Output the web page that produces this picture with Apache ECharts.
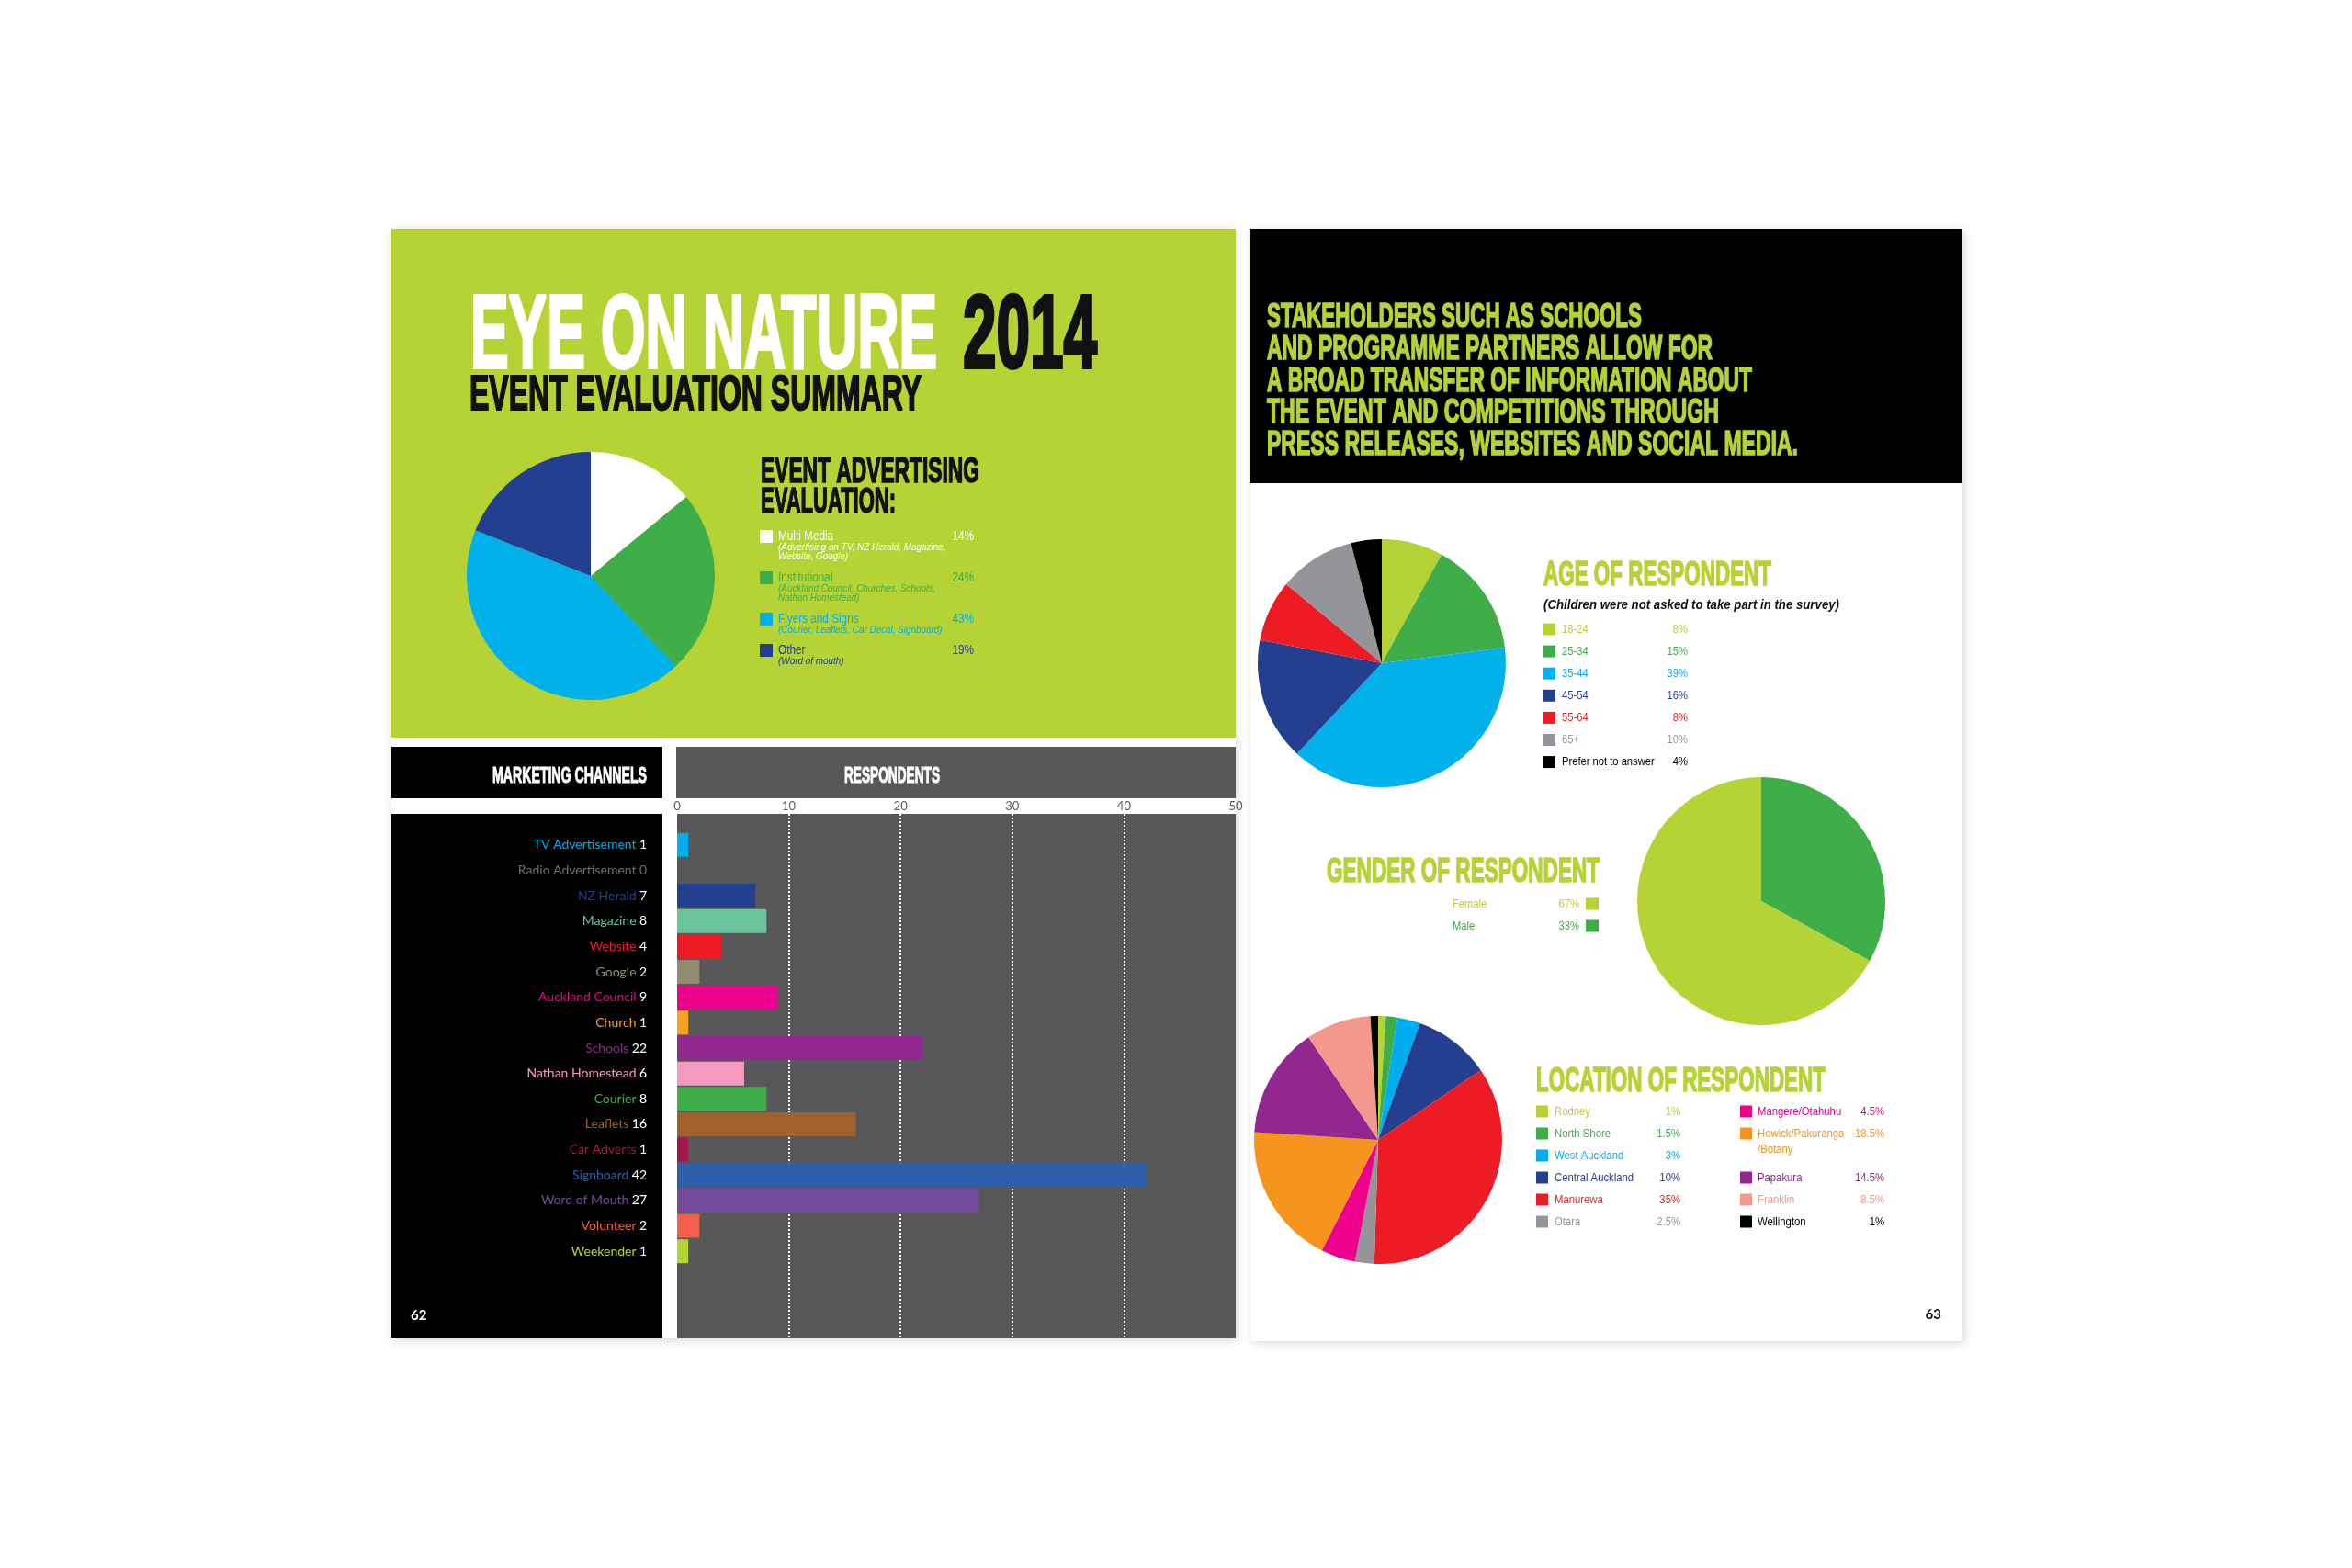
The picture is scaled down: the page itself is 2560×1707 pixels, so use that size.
<!DOCTYPE html>
<html>
<head>
<meta charset="utf-8">
<script src="https://cdn.jsdelivr.net/npm/echarts@6.0.0/dist/echarts.min.js"></script>
<style>
  html, body { margin: 0; padding: 0; background: #ffffff; }
  #chart { width: 2560px; height: 1707px; }
</style>
</head>
<body>
<div id="chart"></div>
<script>
// ---------------- DATA ----------------
const adNames = ['Multi Media', 'Institutional', 'Flyers and Signs', 'Other'];
const adNotes = [
  ['(Advertising on TV, NZ Herald, Magazine,', 'Website, Google)'],
  ['(Auckland Council, Churches, Schools,', 'Nathan Homestead)'],
  ['(Courier, Leaflets, Car Decal, Signboard)'],
  ['(Word of mouth)']
];
const adShare = [14, 24, 43, 19];

const channels = ['TV Advertisement', 'Radio Advertisement', 'NZ Herald', 'Magazine', 'Website', 'Google',
  'Auckland Council', 'Church', 'Schools', 'Nathan Homestead', 'Courier', 'Leaflets', 'Car Adverts',
  'Signboard', 'Word of Mouth', 'Volunteer', 'Weekender'];
const channelCounts = [1, 0, 7, 8, 4, 2, 9, 1, 22, 6, 8, 16, 1, 42, 27, 2, 1];

const ageGroups = ['18-24', '25-34', '35-44', '45-54', '55-64', '65+', 'Prefer not to answer'];
const ageShare = [8, 15, 39, 16, 8, 10, 4];

const genders = ['Female', 'Male'];
const genderShare = [67, 33];

const locations = ['Rodney', 'North Shore', 'West Auckland', 'Central Auckland', 'Manurewa', 'Otara',
  'Mangere/Otahuhu', 'Howick/Pakuranga\n/Botany', 'Papakura', 'Franklin', 'Wellington'];
const locationShare = [1, 1.5, 3, 10, 35, 2.5, 4.5, 18.5, 14.5, 8.5, 1];

const statementLines = [
  'STAKEHOLDERS SUCH AS SCHOOLS',
  'AND PROGRAMME PARTNERS ALLOW FOR',
  'A BROAD TRANSFER OF INFORMATION ABOUT',
  'THE EVENT AND COMPETITIONS THROUGH',
  'PRESS RELEASES, WEBSITES AND SOCIAL MEDIA.'
];

// ---------------- STYLES ----------------
const LIME = '#b5d334', GREEN = '#3fae49', CYAN = '#00b1eb', NAVY = '#243f8f', RED = '#ed1c24',
  GREY = '#939598', BLACK = '#000000';
const adColors = ['#ffffff', GREEN, CYAN, NAVY];
const adTextColors = ['#ffffff', GREEN, CYAN, NAVY];
const channelColors = ['#00aeef', '#6d6e71', '#243f8f', '#6cc49c', '#ed1c24', '#938d70', '#ec008c', '#f9a21b',
  '#92278f', '#f49ac1', '#3fae49', '#a0612a', '#a3174f', '#2e5fad', '#744a9c', '#f26049', '#b5d334'];
const ageColors = [LIME, GREEN, CYAN, NAVY, RED, GREY, BLACK];
const genderColors = [LIME, GREEN];
const locColors = [LIME, GREEN, '#00aeef', NAVY, RED, GREY, '#ec008c', '#f7941d', '#92278f', '#f4978e', BLACK];

// ---------------- HELPERS ----------------
const mctx = document.createElement('canvas').getContext('2d');
const SANS = '"Liberation Sans"';
function txt(text, x, y, o) {
  const fam = o.family || SANS;
  const weight = o.weight || 'normal';
  const fstyle = o.style || 'normal';
  mctx.font = fstyle + ' ' + weight + ' ' + o.size + 'px ' + fam;
  const w = mctx.measureText(text).width;
  const sx = o.w ? o.w / w : (o.sx || 1);
  const style = {
    text: text, fill: o.color || '#000', fontSize: o.size, fontFamily: fam,
    fontWeight: weight, fontStyle: fstyle, textAlign: o.align || 'left', textVerticalAlign: 'middle'
  };
  if (o.heavy) { style.stroke = o.color || '#000'; style.lineWidth = o.heavy; }
  return { type: 'text', x: x, y: y, scaleX: sx, z: 100, silent: true, style: style };
}
function rect(x, y, w, h, fill, extra) {
  return { type: 'rect', z: -10, silent: true, shape: { x: x, y: y, width: w, height: h }, style: Object.assign({ fill: fill }, extra || {}) };
}
function pieData(names, vals, colors) {
  return vals.map((v, i) => ({ name: names[i], value: v, itemStyle: { color: colors[i] } }));
}

const G = [];
// pages & panels
G.push(rect(426, 249, 919, 1208, '#ffffff', { shadowBlur: 10, shadowColor: 'rgba(0,0,0,0.16)', shadowOffsetX: 1, shadowOffsetY: 2 }));
G.push(rect(1361, 249, 775, 1211, '#ffffff', { shadowBlur: 10, shadowColor: 'rgba(0,0,0,0.16)', shadowOffsetX: 2, shadowOffsetY: 2 }));
G.push(rect(426, 249, 919, 554, LIME));
G.push(rect(426, 813, 295, 56, '#000000'));
G.push(rect(736, 813, 609, 56, '#58585a'));
G.push(rect(426, 886, 295, 571, '#000000'));
G.push(rect(1361, 249, 775, 277, '#000000'));

// left page titles
G.push(txt('EYE ON NATURE', 512, 369, { size: 114, weight: 'bold', w: 508, color: '#ffffff', heavy: 4 }));
G.push(txt('2014', 1048, 369, { size: 114, weight: 'bold', w: 146, color: '#111111', heavy: 4 }));
G.push(txt('EVENT EVALUATION SUMMARY', 511, 431, { size: 54, weight: 'bold', w: 492, color: '#111111', heavy: 2 }));
G.push(txt('EVENT ADVERTISING', 828, 515, { size: 38, weight: 'bold', w: 238, color: '#111111', heavy: 1.6 }));
G.push(txt('EVALUATION:', 828, 548, { size: 38, weight: 'bold', w: 147, color: '#111111', heavy: 1.6 }));

// advertising legend
const adRowY = [584, 629, 674, 708];
adNames.forEach((n, i) => {
  const y = adRowY[i];
  G.push({ type: 'rect', z: 50, silent: true, shape: { x: 827, y: y - 7, width: 14, height: 14 }, style: { fill: adColors[i] } });
  G.push(txt(n, 847, y, { size: 14, sx: 0.84, color: adTextColors[i] }));
  G.push(txt(adShare[i] + '%', 1060, y, { size: 14, sx: 0.84, color: adTextColors[i], align: 'right' }));
  adNotes[i].forEach((line, k) => {
    G.push(txt(line, 847, y + 12 + k * 10, { size: 11.5, style: 'italic', sx: 0.86, color: adTextColors[i] }));
  });
});

// bar panel headers
G.push(txt('MARKETING CHANNELS', 704, 845, { size: 24, weight: 'bold', w: 168, color: '#ffffff', align: 'right', heavy: 1 }));
G.push(txt('RESPONDENTS', 971, 845, { size: 24, weight: 'bold', w: 104, color: '#ffffff', align: 'center', heavy: 1 }));
G.push(txt('62', 447, 1432, { size: 15, weight: 'bold', family: 'Lato', color: '#ffffff' }));
G.push(txt('63', 2113, 1431, { size: 15, weight: 'bold', family: 'Lato', color: '#111111', align: 'right' }));

// right black box statement
const stW = [408, 485, 528, 492, 578];
statementLines.forEach((l, i) => {
  G.push(txt(l, 1379, 346 + i * 34.7, { size: 37, weight: 'bold', w: stW[i], color: LIME, heavy: 1.6 }));
});

// age
G.push(txt('AGE OF RESPONDENT', 1680, 627, { size: 37, weight: 'bold', w: 248, color: LIME, heavy: 1.6 }));
G.push(txt('(Children were not asked to take part in the survey)', 1680, 659, { size: 15, weight: 'bold', style: 'italic', w: 322, color: '#111111' }));
ageGroups.forEach((n, i) => {
  const y = 685 + i * 24.1;
  G.push({ type: 'rect', z: 50, silent: true, shape: { x: 1680, y: y - 6.5, width: 13, height: 13 }, style: { fill: ageColors[i] } });
  G.push(txt(n, 1700, y, { size: 13, sx: 0.86, color: ageColors[i] }));
  G.push(txt(ageShare[i] + '%', 1837, y, { size: 13, sx: 0.86, color: ageColors[i], align: 'right' }));
});

// gender
G.push(txt('GENDER OF RESPONDENT', 1741, 950, { size: 37, weight: 'bold', w: 297, color: LIME, align: 'right', heavy: 1.6 }));
genders.forEach((n, i) => {
  const y = 984 + i * 24;
  G.push(txt(n, 1581, y, { size: 13, sx: 0.86, color: genderColors[i] }));
  G.push(txt(genderShare[i] + '%', 1719, y, { size: 13, sx: 0.86, color: genderColors[i], align: 'right' }));
  G.push({ type: 'rect', z: 50, silent: true, shape: { x: 1726, y: y - 6.5, width: 14, height: 13 }, style: { fill: genderColors[i] } });
});

// location
G.push(txt('LOCATION OF RESPONDENT', 1672, 1178, { size: 37, weight: 'bold', w: 315, color: LIME, heavy: 1.6 }));
(function () {
  const cols = [{ sq: 1672, lab: 1692, pct: 1829 }, { sq: 1894, lab: 1913, pct: 2051 }];
  let slot = 0, col = 0;
  locations.forEach((n, i) => {
    if (i === 6) { col = 1; slot = 0; }
    const c = cols[col];
    const y = 1210 + slot * 24;
    const lines = n.split('\n');
    G.push({ type: 'rect', z: 50, silent: true, shape: { x: c.sq, y: y - 6.5, width: 13, height: 13 }, style: { fill: locColors[i] } });
    lines.forEach((l, k) => G.push(txt(l, c.lab, y + k * 17, { size: 13, sx: 0.87, color: locColors[i] })));
    G.push(txt(locationShare[i] + '%', c.pct, y, { size: 13, sx: 0.87, color: locColors[i], align: 'right' }));
    slot += lines.length;
  });
})();

// ---------------- CHART ----------------
const rich = {};
channels.forEach((c, i) => {
  rich['c' + i] = { color: channelColors[i], fontSize: 14, fontFamily: 'Lato' };
  rich['n' + i] = { color: channelCounts[i] === 0 ? channelColors[i] : '#ffffff', fontSize: 14, fontFamily: 'Lato' };
});

const pieBase = {
  type: 'pie', startAngle: 90, clockwise: true, silent: true,
  label: { show: false }, labelLine: { show: false },
  itemStyle: { borderWidth: 0 }, emphasis: { disabled: true }
};

const option = {
  backgroundColor: '#ffffff',
  animation: false,
  grid: [
    { left: 737, top: 906, width: 608, height: 470, containLabel: false },
    { left: 737, top: 886, width: 608, height: 571, show: true, backgroundColor: '#58585a', borderWidth: 0, containLabel: false }
  ],
  xAxis: [
    { gridIndex: 0, type: 'value', min: 0, max: 50, interval: 10, show: false },
    {
      gridIndex: 1, type: 'value', min: 0, max: 50, interval: 10, position: 'top',
      axisLine: { show: false }, axisTick: { show: false },
      axisLabel: { color: '#58595b', fontSize: 13, fontFamily: 'Lato', margin: 2 },
      splitLine: { show: true, showMinLine: false, showMaxLine: false, lineStyle: { color: '#ffffff', type: [2, 2], width: 2 } }
    }
  ],
  yAxis: [
    {
      gridIndex: 0, type: 'category', data: channels, inverse: true,
      axisLine: { show: false }, axisTick: { show: false }, splitLine: { show: false },
      axisLabel: {
        interval: 0, margin: 33,
        formatter: (val, idx) => '{c' + idx + '|' + val + '} {n' + idx + '|' + channelCounts[idx] + '}',
        rich: rich
      }
    },
    { gridIndex: 1, type: 'value', min: 0, max: 1, show: false }
  ],
  series: [
    {
      type: 'bar', xAxisIndex: 0, yAxisIndex: 0, barWidth: 26, silent: true,
      data: channelCounts.map((v, i) => ({ value: v, itemStyle: { color: channelColors[i] } }))
    },
    Object.assign({}, pieBase, { center: [643, 627], radius: 135, data: pieData(adNames, adShare, adColors) }),
    Object.assign({}, pieBase, { center: [1504, 722], radius: 135, data: pieData(ageGroups, ageShare, ageColors) }),
    Object.assign({}, pieBase, {
      center: [1917, 981], radius: 135,
      data: pieData(genders, genderShare, genderColors).slice().reverse()
    }),
    Object.assign({}, pieBase, { center: [1500, 1241], radius: 135, data: pieData(locations, locationShare, locColors) })
  ],
  graphic: { elements: G }
};

const chart = echarts.init(document.getElementById('chart'), null, { width: 2560, height: 1707, renderer: 'canvas' });
chart.setOption(option);
</script>
</body>
</html>
